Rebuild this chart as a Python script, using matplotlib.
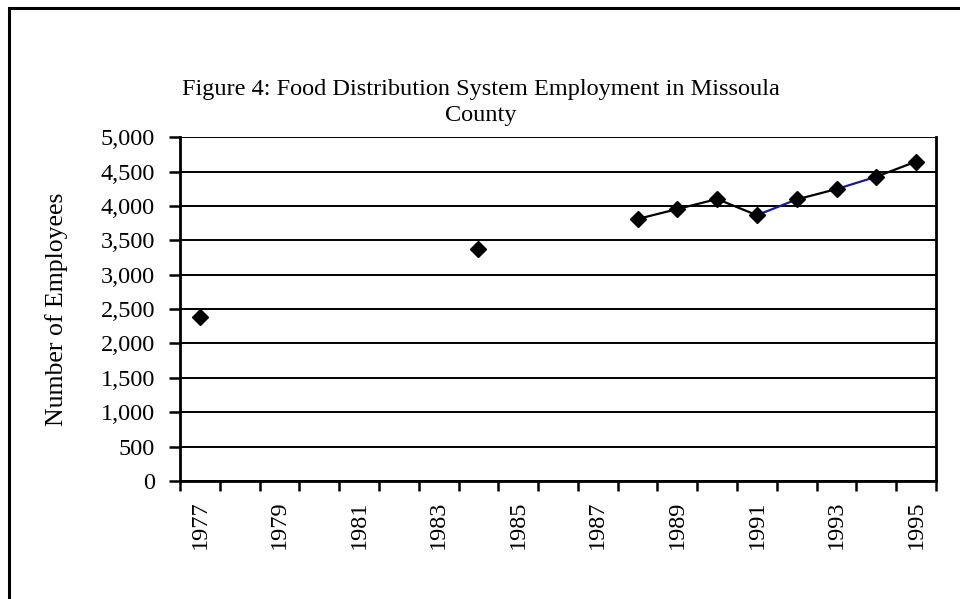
import matplotlib
matplotlib.use("Agg")
from matplotlib import pyplot as plt
from matplotlib.patches import Rectangle
import numpy as np

# chart data
years = [1977, 1978, 1979, 1980, 1981, 1982, 1983, 1984, 1985, 1986,
         1987, 1988, 1989, 1990, 1991, 1992, 1993, 1994, 1995]
employees = [2390, None, None, None, None, None, None, 3370, None, None,
             None, 3810, 3955, 4100, 3865, 4095, 4245, 4425, 4645]
y_ticks = [0, 500, 1000, 1500, 2000, 2500, 3000, 3500, 4000, 4500, 5000]

title = "Figure 4: Food Distribution System Employment in Missoula\nCounty"
y_label = "Number of Employees"

# segment colours (the original has a couple of navy pieces)
seg_colors = {1991: "#1a1a8c", 1993: "#1a1a8c"}

plt.rcParams["font.family"] = ["Liberation Serif", "DejaVu Serif"]

fig = plt.figure(figsize=(9.6, 5.99), dpi=100)
ax = fig.add_axes([0.1875, 0.197, 0.7875, 0.574])

pos = np.arange(len(years))
vals = np.array([np.nan if v is None else v for v in employees], dtype=float)

# gridlines
for t in y_ticks:
  ax.axhline(t, color="black", linewidth=1.4, zorder=1)

# connecting lines between consecutive years
for i in range(len(years) - 1):
  if np.isnan(vals[i]) or np.isnan(vals[i + 1]):
    continue
  c = seg_colors.get(years[i], "black")
  ax.plot(pos[i:i + 2], vals[i:i + 2], color=c, linewidth=1.6, zorder=2)

ax.plot(pos, vals, linestyle="none", marker="D", markersize=8,
        color="black", zorder=3)

ax.set_xlim(-0.5, len(years) - 0.5)
ax.set_ylim(0, 5000)
ax.set_yticks(y_ticks)
ax.set_yticklabels([f"{t:,}" for t in y_ticks], fontsize=17.5)

# tick marks between categories, labels on every other year
ax.set_xticks(np.arange(-0.5, len(years), 1.0))
ax.set_xticklabels([])
ax.set_xticks(pos[::2], minor=True)
ax.set_xticklabels([str(y) for y in years[::2]], minor=True,
                   rotation=90, fontsize=17.5)
ax.tick_params(axis="x", which="major", length=7, width=1.8, direction="out")
ax.tick_params(axis="x", which="minor", length=0, pad=14)
ax.tick_params(axis="y", length=8, width=1.8, direction="out", pad=10)

for s in ["left", "bottom", "right"]:
  ax.spines[s].set_linewidth(2)
ax.spines["top"].set_visible(False)

ax.set_ylabel(y_label, fontsize=18.5)
ax.yaxis.set_label_coords(-0.148, 0.5)
fig.text(0.501, 0.829, title, ha="center", va="center", fontsize=17.5,
         linespacing=1.3)

# outer frame (clipped on the right and bottom like the original)
fig.patches.append(Rectangle((8.5 / 960, -0.2), 1.2, 1.2 - 8.0 / 599,
                             transform=fig.transFigure, fill=False,
                             edgecolor="black", linewidth=2.2))

fig.savefig("out.png", dpi=100)
